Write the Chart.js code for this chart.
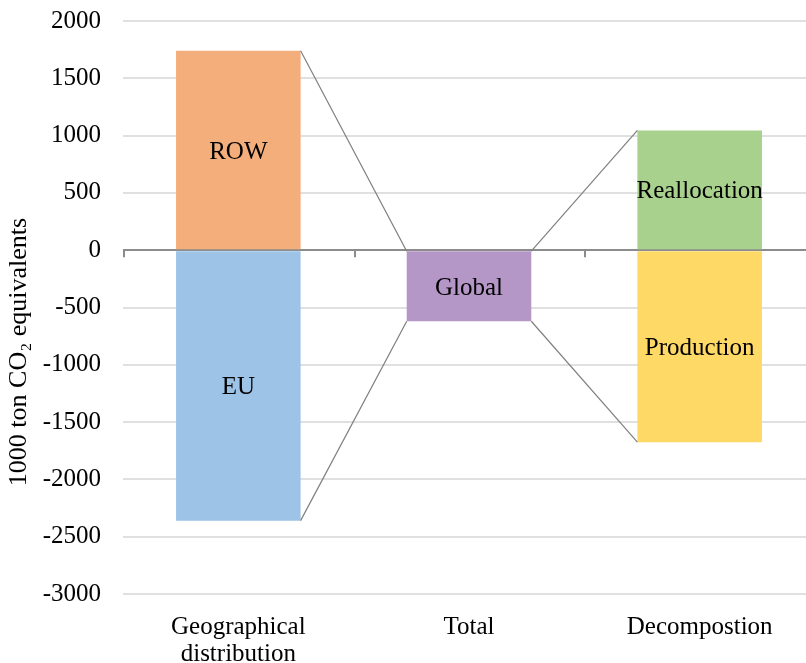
<!DOCTYPE html>
<html>
<head>
<meta charset="utf-8">
<script src="https://cdn.jsdelivr.net/npm/chart.js@4/dist/chart.umd.min.js"></script>
<style>
  html, body { margin: 0; padding: 0; background: #fff; overflow: hidden; }
  /* plot runs slightly past the right edge of the window */
  #wrap { width: 815px; height: 663px; }
</style>
</head>
<body>
<div id="wrap"><canvas id="waterfall"></canvas></div>
<script>
// categories and values (1000 ton CO2 equivalents)
const categories = [["Geographical", "distribution"], "Total", "Decompostion"];
const segmentNames = ["ROW", "EU", "Global", "Reallocation", "Production"];
const segmentCategory = [0, 0, 1, 2, 2];
const segmentValues = [1740, -2360, -620, 1045, -1675];
const segmentColors = ["#F4AE7C", "#9DC3E6", "#B497C7", "#A9D18E", "#FFD966"];
const yTicks = [-3000, -2500, -2000, -1500, -1000, -500, 0, 500, 1000, 1500, 2000];
const yTitle = "1000 ton CO\u2082 equivalents";

// connector lines: [segment, edge] -> [segment, edge]; edge "end" = bar value, "base" = zero side
const links = [
    [[0, "end"], [2, "base"]],
    [[1, "end"], [2, "end"]],
    [[2, "base"], [3, "end"]],
    [[2, "end"], [4, "end"]]
];

const FONT = "'Liberation Serif', 'Times New Roman', serif";

const datasets = segmentNames.map(function (name, i) {
    const data = categories.map(function (c, j) {
        return j === segmentCategory[i] ? segmentValues[i] : null;
    });
    return {
        label: name,
        data: data,
        backgroundColor: segmentColors[i],
        borderWidth: 0,
        barPercentage: 0.54,
        categoryPercentage: 1.0,
        stack: "s"
    };
});

// draws the connectors, tick marks on the zero line, segment labels and the value axis title
const decorations = {
    id: "decorations",
    afterDatasetsDraw: function (chart) {
        const ctx = chart.ctx;
        const xs = chart.scales.x;
        const ys = chart.scales.y;
        const bar = function (i) {
            return chart.getDatasetMeta(i).data[segmentCategory[i]];
        };
        const edgeY = function (el, edge) {
            return edge === "end" ? el.y : el.base;
        };

        ctx.save();
        ctx.strokeStyle = "#7F7F7F";
        ctx.lineWidth = 1.2;
        links.forEach(function (lk) {
            const a = bar(lk[0][0]);
            const b = bar(lk[1][0]);
            const ax = a.x + a.width / 2;
            const bx = b.x - b.width / 2;
            ctx.beginPath();
            ctx.moveTo(ax, edgeY(a, lk[0][1]));
            ctx.lineTo(bx, edgeY(b, lk[1][1]));
            ctx.stroke();
        });

        // small tick marks at category boundaries under the zero line
        const zeroY = ys.getPixelForValue(0);
        const step = xs.getPixelForValue(1) - xs.getPixelForValue(0);
        ctx.strokeStyle = "#8C8C8C";
        ctx.lineWidth = 2;
        for (let j = 0; j < categories.length; j++) {
            const bx = Math.round(xs.getPixelForValue(j) - step / 2) + 1;
            ctx.beginPath();
            ctx.moveTo(bx, zeroY);
            ctx.lineTo(bx, zeroY + 7);
            ctx.stroke();
        }

        ctx.fillStyle = "#000";
        ctx.font = "25px " + FONT;
        ctx.textAlign = "center";
        ctx.textBaseline = "middle";
        segmentNames.forEach(function (name, i) {
            const el = bar(i);
            ctx.fillText(name, el.x, (el.y + el.base) / 2 + 2);
        });

        // axis title sits a little below the middle of the plot
        ctx.font = "26px " + FONT;
        ctx.translate(19, 352);
        ctx.rotate(-Math.PI / 2);
        ctx.fillText(yTitle, 0, 0);
        ctx.restore();
    }
};

new Chart(document.getElementById("waterfall").getContext("2d"), {
    type: "bar",
    data: { labels: categories, datasets: datasets },
    options: {
        responsive: true,
        maintainAspectRatio: false,
        animation: false,
        layout: { padding: { top: 21, right: 0, bottom: -25, left: 0 } },
        plugins: {
            legend: { display: false },
            tooltip: { enabled: false }
        },
        scales: {
            x: {
                stacked: true,
                grid: { display: false, drawTicks: false },
                border: { display: false },
                ticks: {
                    color: "#000",
                    padding: 20,
                    maxRotation: 0,
                    font: { family: FONT, size: 25, lineHeight: 1.08 }
                }
            },
            y: {
                stacked: true,
                min: yTicks[0],
                max: yTicks[yTicks.length - 1],
                afterBuildTicks: function (scale) {
                    scale.ticks = yTicks.map(function (v) { return { value: v }; });
                },
                afterFit: function (scale) {
                    // keep tick padding from pushing the plot down
                    scale.paddingTop = 0;
                    scale.paddingBottom = 0;
                    scale.width = 123;
                },
                border: { display: false },
                grid: {
                    drawTicks: false,
                    color: function (c) { return c.tick && c.tick.value === 0 ? "#8C8C8C" : "#E0E0E0"; },
                    lineWidth: 2
                },
                ticks: {
                    color: "#000",
                    padding: 22,
                    font: { family: FONT, size: 25 },
                    callback: function (v) { return String(v); }
                },
                title: { display: false }
            }
        }
    },
    plugins: [decorations]
});
</script>
</body>
</html>
